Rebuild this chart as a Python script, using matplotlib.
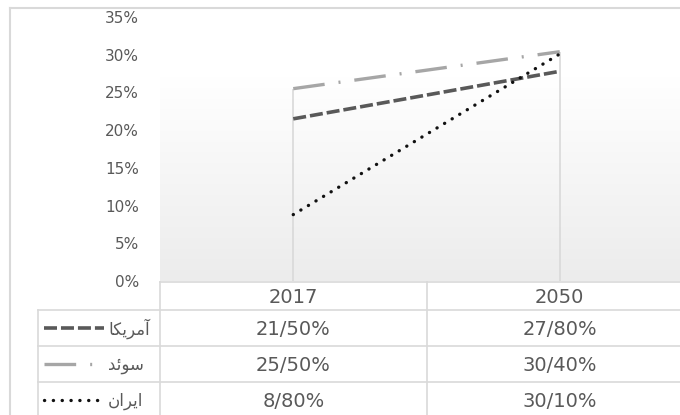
import matplotlib
matplotlib.use('Agg')
import matplotlib.pyplot as plt
from matplotlib import transforms
from matplotlib.colors import LinearSegmentedColormap
from matplotlib.ticker import MultipleLocator, PercentFormatter
import numpy as np

# data (percent)
years = ['2017', '2050']
america = [21.50, 27.80]
sweden = [25.50, 30.40]
iran = [8.80, 30.10]
# Persian names, pre-shaped glyphs in visual (left-to-right) order
names = [
    '\uFE8E\uFB91\uFBFE\uFEAE\uFEE3\uFE81',  # آمریکا
    '\uFEAA\uFE8B\uFEEE\uFEB3',              # سوئد
    '\uFEE5\uFE8D\uFEAE\uFBFE\uFE8D',        # ایران
]
series = [america, sweden, iran]

TXT = '#595959'
GRID = '#d9d9d9'
styles = [
    dict(color='#595959', lw=2.6, linestyle=(0, (3.6, 1.1))),
    dict(color='#a6a6a6', lw=2.4, linestyle=(0, (9.5, 4.2, 0.6, 4.2))),
    dict(color='#111111', lw=2.4, linestyle=(0, (0.05, 2.6)), dash_capstyle='round'),
]

plt.rcParams['font.family'] = ['DejaVu Sans']

W, H = 680, 415
fig = plt.figure(figsize=(W / 100, H / 100), dpi=100)
fig.patch.set_facecolor('white')

# plot area: y=0 at 281px from top, 35% at 17px; x from 160px, one category = 266.5px
ax = fig.add_axes([160 / W, (H - 281) / H, 533 / W, 264 / H])
x = np.arange(len(years))
ax.set_xlim(-0.5, len(years) - 0.5)
ax.set_ylim(0, 35)

# soft gradient in the lower part of the plot area
cmap = LinearSegmentedColormap.from_list('bg', ['#ececec', '#ffffff'])
grad = np.linspace(0, 1, 256).reshape(-1, 1)
ax.imshow(grad, extent=(-0.5, len(years) - 0.5, 0, 27.0), origin='lower',
          aspect='auto', cmap=cmap, zorder=0)

# drop lines
tops = [max(v) for v in zip(*series)]
ax.vlines(x, 0, tops, color=GRID, lw=1.2, zorder=1)

for vals, st in zip(series, styles):
    ax.plot(x, vals, zorder=3, solid_capstyle='butt', **st)

for s in ax.spines.values():
    s.set_visible(False)
ax.set_xticks([])
ax.yaxis.set_major_locator(MultipleLocator(5))
ax.yaxis.set_major_formatter(PercentFormatter(decimals=0))
ax.tick_params(axis='y', length=0, pad=15, labelsize=11, labelcolor=TXT)

# overlay in pixel coordinates for the data table and chart border
tab = fig.add_axes([0, 0, 1, 1], zorder=5)
tab.set_xlim(0, W)
tab.set_ylim(H, 0)
tab.axis('off')
tab.patch.set_alpha(0)
blend = transforms.blended_transform_factory(ax.transData, tab.transData)

# chart border
tab.plot([10, W], [8, 8], color=GRID, lw=1.5)
tab.plot([10, 10], [8, H], color=GRID, lw=1.5)

y_top, y_head = 282, 310
row_h = 36
rows_y = [y_head + i * row_h for i in range(len(series) + 1)]
edges = np.arange(len(years) + 1) - 0.5

tab.plot(edges[[0, -1]], [y_top, y_top], color=GRID, lw=1.2, transform=blend, clip_on=False)
for yy in rows_y[:-1]:
    tab.plot([38, W], [yy, yy], color=GRID, lw=1.2, clip_on=False)
tab.plot([38, 38], [y_head, H], color=GRID, lw=1.2)
for e in edges:
    tab.plot([e, e], [y_top, H], color=GRID, lw=1.2, transform=blend, clip_on=False)

for xi, yr in zip(x, years):
    tab.text(xi, (y_top + y_head) / 2 + 1, yr, transform=blend, ha='center', va='center',
             fontsize=14, color=TXT)

for i, (vals, name, st) in enumerate(zip(series, names, styles)):
    yc = rows_y[i] + row_h / 2 + 1
    for xi, v in zip(x, vals):
        label = f'{v:.2f}%'.replace('.', '/')
        tab.text(xi, yc, label, transform=blend, ha='center', va='center',
                 fontsize=14, color=TXT)
    tab.plot([44, 104], [yc - 1, yc - 1], **st)
    tab.text(108, yc, name, ha='left', va='center', fontsize=12, color=TXT)

fig.savefig('out.png', dpi=100)
